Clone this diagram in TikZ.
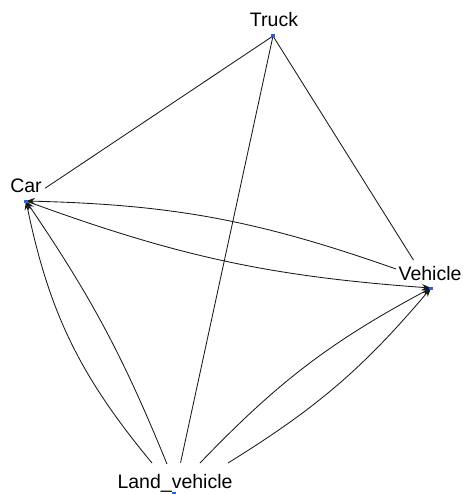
\documentclass[tikz,border=0pt]{standalone}
\usepackage{fontspec}
\setmainfont{Liberation Sans}
\usetikzlibrary{arrows.meta}
\definecolor{dotblue}{RGB}{30,100,240}
\definecolor{edgecol}{RGB}{25,25,25}
\tikzset{
  lbl/.style={inner sep=0pt, anchor=base, font=\fontsize{19.5}{22}\selectfont},
  edge/.style={draw=edgecol, line width=0.85pt},
  arr/.style={edge, -{Stealth[length=9pt,width=6.5pt]}},
  dotmark/.style={fill=dotblue, inner sep=0pt, minimum width=4.5pt, minimum height=3pt, rectangle}
}
\begin{document}
\begin{tikzpicture}[x=1pt,y=-1pt]
\useasboundingbox (0,0) rectangle (462,494);
% dot positions
\coordinate (truck) at (273,36);
\coordinate (car) at (26,201);
\coordinate (vehicle) at (431,288);
\coordinate (land) at (174,493);
% labels
\node[lbl] (trucklabel) at (274,27) {Truck};
\node[lbl] (carlabel) at (26,193) {Car};
\node[lbl] (vehiclelabel) at (430,280) {Vehicle};
\node[lbl] (landlabel) at (175,488) {Land\_vehicle};
% ports on labels
\coordinate (vehW) at (396,269);
\coordinate (landA) at (152,463);
\coordinate (landB) at (167,464);
\coordinate (landC) at (200,463);
\coordinate (landD) at (228,463);
% truck edges
\draw[edge, shorten >=23pt] (truck) -- (car);
\draw[edge, shorten >=33pt] (truck) -- (vehicle);
\draw[edge, shorten >=31pt] (truck) -- (land);
% car - vehicle
\draw[arr] (vehW) to[bend right=9] (car);
\draw[arr] (car) to[bend right=8] (vehicle);
% land - car
\draw[arr] (landA) to[bend left=14] (car);
\draw[arr] (landB) to[bend right=6] (car);
% land - vehicle
\draw[arr] (landC) to[bend left=9] (vehicle);
\draw[arr] (landD) to[bend right=9] (vehicle);
% dots on top
\node[dotmark] at (truck) {};
\node[dotmark] at (car) {};
\node[dotmark] at (vehicle) {};
\node[dotmark] at (land) {};
\end{tikzpicture}
\end{document}
